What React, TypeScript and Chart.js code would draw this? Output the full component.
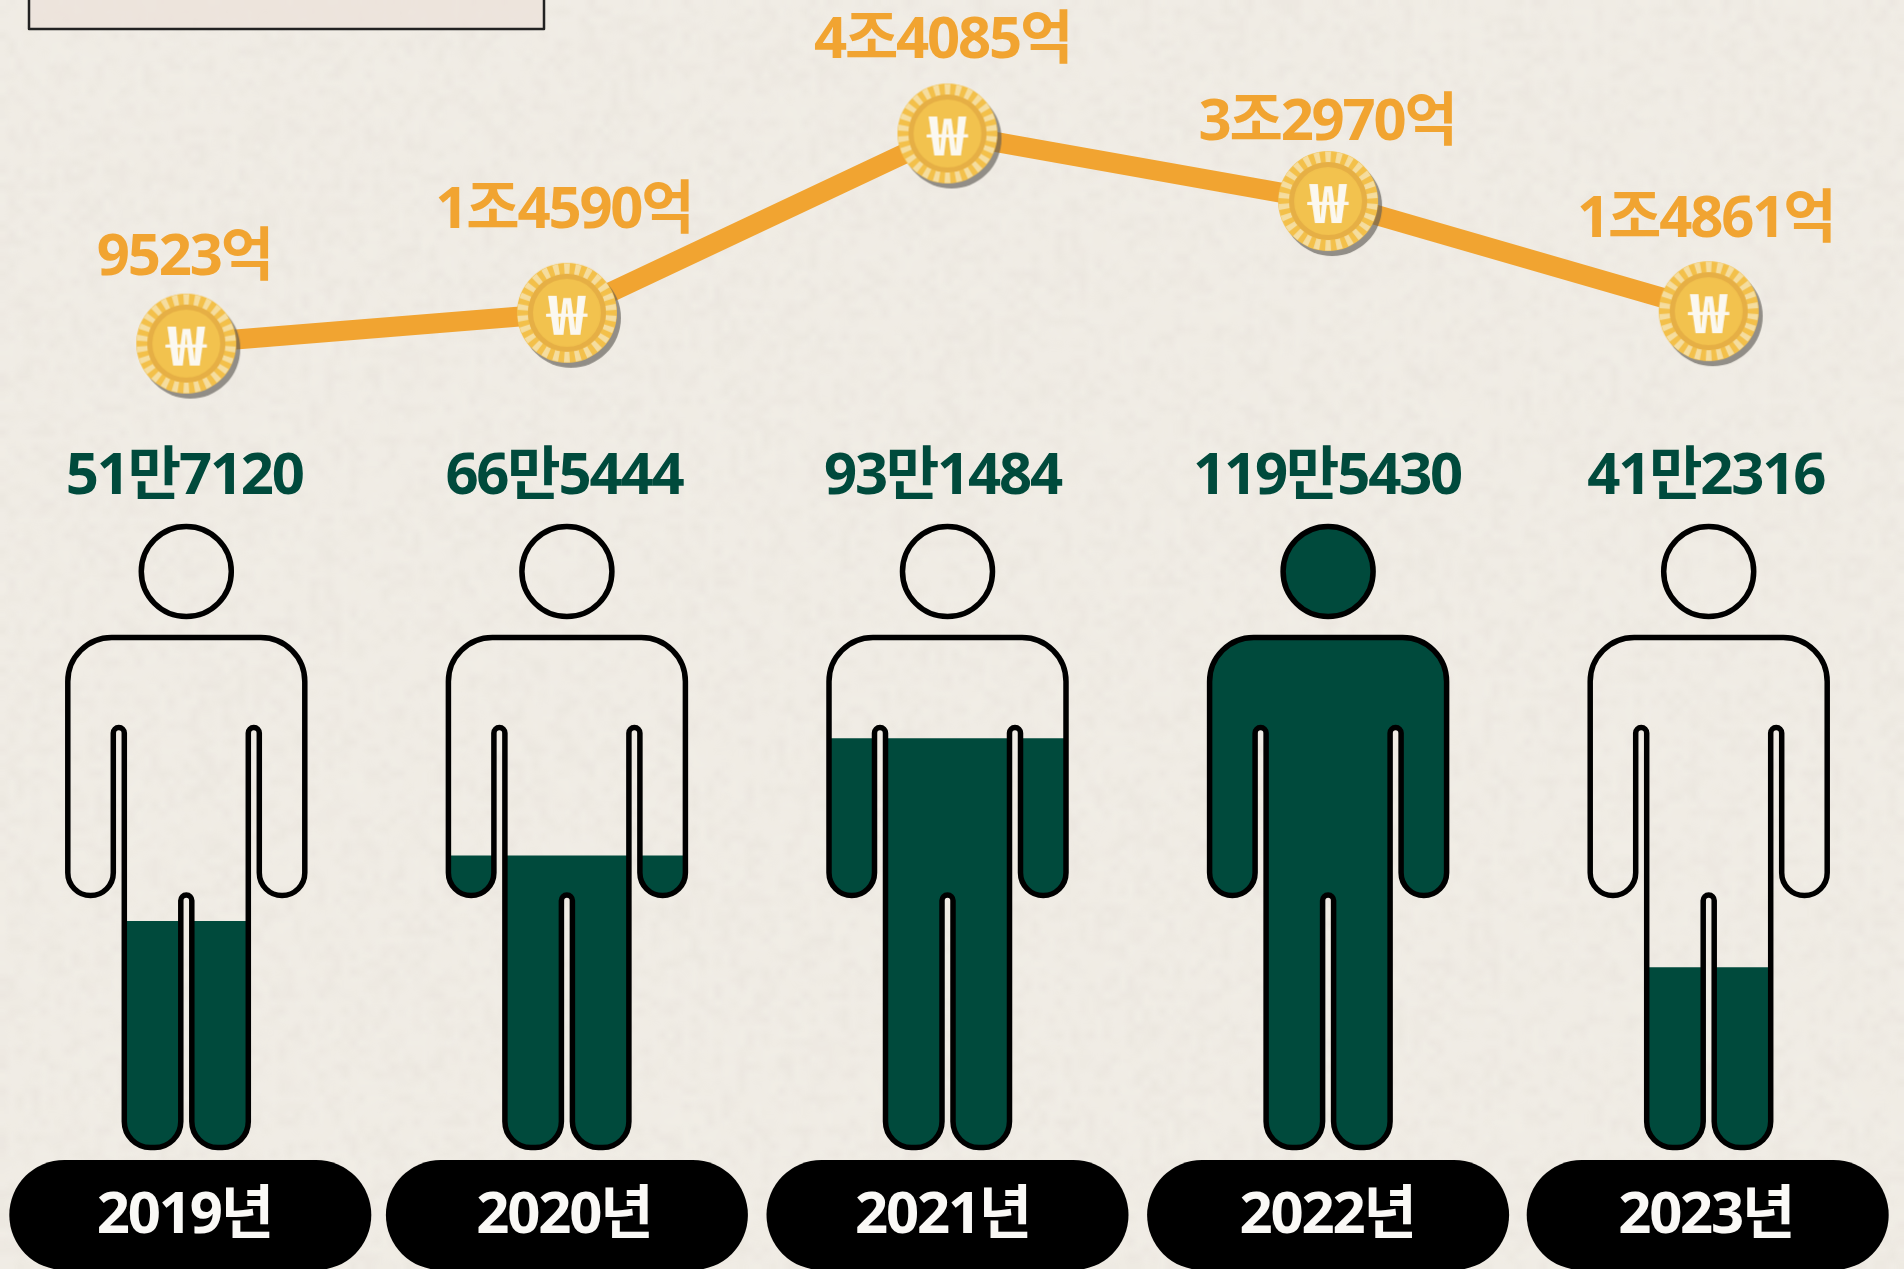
import React, { useEffect, useRef } from "react";
import { Chart, registerables } from "chart.js";

Chart.register(...registerables);

const years = ["2019년", "2020년", "2021년", "2022년", "2023년"];
const settledAmounts = [9523, 14590, 44085, 32970, 14861];
const settledLabels = ["9523억", "1조4590억", "4조4085억", "3조2970억", "1조4861억"];
const peopleCounts = [517120, 665444, 931484, 1195430, 412316];
const peopleLabels = ["51만7120", "66만5444", "93만1484", "119만5430", "41만2316"];

const PAPER = "#F0ECE5";
const GREEN = "#004A3C";
const ORANGE = "#F1A431";
const FONT = '700 58px "Noto Sans", "Noto Sans CJK KR", sans-serif';
const SPACING = "-2.2px";

function makePaper(): string {
  const small = document.createElement("canvas");
  small.width = 240;
  small.height = 160;
  const s = small.getContext("2d")!;
  let seed = 12345;
  const next = () => {
    seed = (seed * 1103515245 + 12345) & 0x7fffffff;
    return seed / 0x7fffffff;
  };
  for (let y = 0; y < 160; y++) {
    for (let x = 0; x < 240; x++) {
      const n = next();
      s.fillStyle = n > 0.5 ? `rgba(255,252,240,${(n - 0.5) * 0.16})` : `rgba(150,140,120,${(0.5 - n) * 0.08})`;
      s.fillRect(x, y, 1, 1);
    }
  }
  const big = document.createElement("canvas");
  big.width = 1904;
  big.height = 1269;
  const b = big.getContext("2d")!;
  b.fillStyle = PAPER;
  b.fillRect(0, 0, 1904, 1269);
  b.imageSmoothingEnabled = true;
  b.drawImage(small, 0, 0, 1904, 1269);
  return big.toDataURL("image/png");
}

function makeCoin(): HTMLCanvasElement {
  const c = document.createElement("canvas");
  c.width = 124;
  c.height = 124;
  const g = c.getContext("2d")!;
  const m = 62;
  g.fillStyle = "rgba(95,92,86,0.65)";
  g.beginPath();
  g.arc(m + 4, m + 5, 50, 0, Math.PI * 2);
  g.fill();
  g.fillStyle = "#F3C04A";
  g.beginPath();
  g.arc(m, m, 50, 0, Math.PI * 2);
  g.fill();
  g.fillStyle = "#F5DD9F";
  const n = 26;
  for (let i = 0; i < n; i++) {
    const a = (i / n) * Math.PI * 2 - Math.PI / 2;
    const w = (Math.PI / n) * 1.0;
    g.beginPath();
    g.arc(m, m, 49.5, a - w / 2, a + w / 2);
    g.arc(m, m, 39, a + w / 2, a - w / 2, true);
    g.closePath();
    g.fill();
  }
  g.fillStyle = "#E6AF45";
  g.beginPath();
  g.arc(m, m, 39, 0, Math.PI * 2);
  g.fill();
  g.fillStyle = "#F2C24E";
  g.beginPath();
  g.arc(m, m, 34, 0, Math.PI * 2);
  g.fill();
  g.save();
  g.translate(m, m);
  g.scale(1.22, 1);
  g.fillStyle = "#FBF8F0";
  g.font = '700 54px "Noto Sans CJK KR", "Noto Sans", sans-serif';
  g.textAlign = "center";
  g.textBaseline = "middle";
  g.fillText("₩", 0, 1);
  g.restore();
  return c;
}

function personBody(cx: number): Path2D {
  const p = new Path2D();
  const T = 637.5, W = 118.5, r = 44;
  const armIn = 73, armBottom = 895.5, armR = (W - armIn) / 2;
  const slitOut = 62, slitR = (armIn - slitOut) / 2, slitTop = 727.5;
  const legBottom = 1147.5, legR = 26, gap = 5.5, crotchTop = 895;
  p.moveTo(cx - W + r, T);
  p.lineTo(cx + W - r, T);
  p.arc(cx + W - r, T + r, r, -Math.PI / 2, 0);
  p.lineTo(cx + W, armBottom - armR);
  p.arc(cx + W - armR, armBottom - armR, armR, 0, Math.PI);
  p.lineTo(cx + armIn, slitTop + slitR);
  p.arc(cx + slitOut + slitR, slitTop + slitR, slitR, 0, Math.PI, true);
  p.lineTo(cx + slitOut, legBottom - legR);
  p.arc(cx + slitOut - legR, legBottom - legR, legR, 0, Math.PI / 2);
  p.lineTo(cx + gap + legR, legBottom);
  p.arc(cx + gap + legR, legBottom - legR, legR, Math.PI / 2, Math.PI);
  p.lineTo(cx + gap, crotchTop + gap);
  p.arc(cx, crotchTop + gap, gap, 0, Math.PI, true);
  p.lineTo(cx - gap, legBottom - legR);
  p.arc(cx - gap - legR, legBottom - legR, legR, 0, Math.PI / 2);
  p.lineTo(cx - slitOut + legR, legBottom);
  p.arc(cx - slitOut + legR, legBottom - legR, legR, Math.PI / 2, Math.PI);
  p.lineTo(cx - slitOut, slitTop + slitR);
  p.arc(cx - slitOut - slitR, slitTop + slitR, slitR, 0, Math.PI, true);
  p.lineTo(cx - armIn, armBottom - armR);
  p.arc(cx - W + armR, armBottom - armR, armR, 0, Math.PI);
  p.lineTo(cx - W, T + r);
  p.arc(cx - W + r, T + r, r, Math.PI, -Math.PI / 2);
  p.closePath();
  return p;
}

function personHead(cx: number): Path2D {
  const p = new Path2D();
  p.arc(cx, 571.5, 45, 0, Math.PI * 2);
  return p;
}

const textNudge = [-2, -3, -5, -1, -3];
const pillNudge = [4, 0, 0, 0, -1];
const amountLift = [69, 85, 75, 61, 74];

const pictogramPlugin = {
  id: "pictogram",
  beforeDatasetDraw(chart: any, args: any) {
    if (args.index !== 1) return;
    const x = chart.scales.x;
    const clip = new Path2D();
    years.forEach((_, i) => {
      const cx = x.getPixelForValue(i);
      clip.addPath(personBody(cx));
    });
    chart.ctx.save();
    chart.ctx.clip(clip);
  },
  afterDatasetDraw(chart: any, args: any) {
    if (args.index !== 1) return;
    chart.ctx.restore();
  },
  afterDatasetsDraw(chart: any) {
    const ctx = chart.ctx;
    const x = chart.scales.x;
    const top = Math.max(...peopleCounts);
    ctx.save();
    ctx.strokeStyle = "#000";
    ctx.lineWidth = 5.5;
    ctx.lineJoin = "round";
    years.forEach((_, i) => {
      const cx = x.getPixelForValue(i);
      const head = personHead(cx);
      if (peopleCounts[i] === top) {
        ctx.fillStyle = GREEN;
        ctx.fill(head);
      }
      ctx.stroke(head);
      ctx.stroke(personBody(cx));
    });

    // frame at the top edge of the crop
    ctx.fillStyle = "rgba(236,226,218,0.75)";
    ctx.fillRect(33, -5, 515, 34);
    ctx.strokeStyle = "#222";
    ctx.lineWidth = 2.5;
    ctx.strokeRect(33, -5, 515, 34);

    ctx.font = FONT;
    (ctx as any).letterSpacing = SPACING;
    ctx.textAlign = "center";
    ctx.textBaseline = "alphabetic";

    const meta = chart.getDatasetMeta(0);
    settledLabels.forEach((t, i) => {
      const pt = meta.data[i];
      ctx.fillStyle = ORANGE;
      ctx.fillText(t, pt.x + textNudge[i], pt.y - amountLift[i]);
    });
    peopleLabels.forEach((t, i) => {
      ctx.fillStyle = GREEN;
      ctx.fillText(t, x.getPixelForValue(i) + textNudge[i], 494);
    });
    years.forEach((t, i) => {
      const cx = x.getPixelForValue(i);
      ctx.fillStyle = "#000";
      ctx.beginPath();
      ctx.roundRect(cx + pillNudge[i] - 181, 1160, 362, 110, 55);
      ctx.fill();
      ctx.fillStyle = "#FAF9F6";
      ctx.fillText(t, cx + textNudge[i], 1233);
    });
    ctx.restore();
  },
};

export default function App() {
  const ref = useRef<HTMLCanvasElement>(null);
  const wrap = useRef<HTMLDivElement>(null);
  useEffect(() => {
    document.body.style.margin = "0";
    document.body.style.background = PAPER;
    document.body.style.overflow = "hidden";
    wrap.current!.style.backgroundImage = `url(${makePaper()})`;
    const coin = makeCoin();
    const chart = new Chart(ref.current!, {
      type: "bar",
      data: {
        labels: years,
        datasets: [
          {
            type: "line",
            data: settledAmounts,
            yAxisID: "amount",
            borderColor: ORANGE,
            borderWidth: 20,
            tension: 0,
            fill: false,
            pointStyle: coin as any,
            pointRadius: 50,
            order: 0,
          },
          {
            type: "bar",
            data: peopleCounts,
            yAxisID: "people",
            backgroundColor: GREEN,
            barPercentage: 1,
            categoryPercentage: 0.7,
            order: 1,
          },
        ] as any,
      },
      options: {
        animation: false,
        responsive: false,
        events: [],
        layout: { padding: 0, autoPadding: false },
        plugins: { legend: { display: false }, tooltip: { enabled: false } },
        scales: {
          x: { display: false, offset: true },
          people: { display: false, min: -272100, max: 2605400 },
          amount: { display: false, min: -142700, max: 66040 },
        },
      },
      plugins: [pictogramPlugin],
    });
    return () => chart.destroy();
  }, []);
  return (
    <div ref={wrap} style={{ position: "relative", width: 1904, height: 1269, overflow: "hidden", background: PAPER }}>
      <canvas ref={ref} width={1903} height={1269} style={{ position: "absolute", left: -4, top: 0 }} />
    </div>
  );
}
